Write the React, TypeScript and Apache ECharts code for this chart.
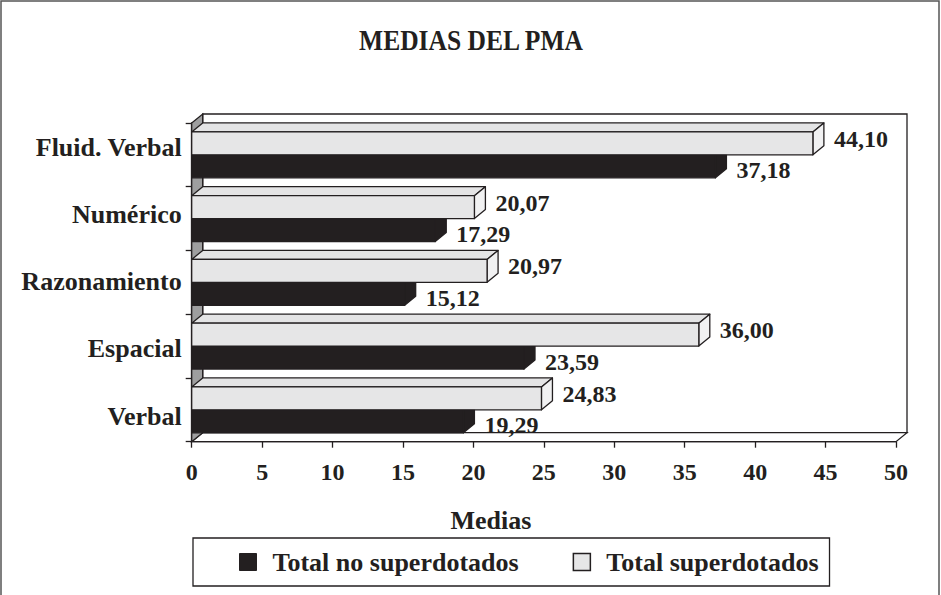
import React, { useEffect, useRef } from "react";
import * as echarts from "echarts";

const categories = ["Verbal", "Espacial", "Razonamiento", "Numérico", "Fluid. Verbal"];
const noSuperdotados = [19.29, 23.59, 15.12, 17.29, 37.18];
const superdotados = [24.83, 36.0, 20.97, 20.07, 44.1];
const seriesNames = ["Total no superdotados", "Total superdotados"];
const xTicks = { min: 0, max: 50, interval: 5 };

const INK = "#231f20";
const FONT = '"Liberation Serif", "Times New Roman", serif';
const DX = 11;
const DY = 9;

const fmt = (v: number) => v.toFixed(2).replace(".", ",");

function barRenderer(kind: "no" | "sup") {
  return (params: any, api: any) => {
    const v = api.value(0);
    const c = api.value(1);
    const p = api.coord([v, c]);
    const p0 = api.coord([0, c]);
    const band = api.size([0, 1])[1];
    const h = band * 0.36;
    const x0 = p0[0];
    const xe = p[0];
    const y1 = kind === "no" ? p[1] : p[1] - h;
    const y2 = kind === "no" ? p[1] + h : p[1];
    const front = kind === "no" ? INK : "#e6e6e7";
    const top = kind === "no" ? INK : "#e4e4e5";
    const side = kind === "no" ? INK : "#f1f1f2";
    const stroke = { stroke: INK, lineWidth: 1.3, lineJoin: "round" };
    return {
      type: "group",
      children: [
        {
          type: "polygon",
          shape: { points: [[x0, y1], [x0 + DX, y1 - DY], [xe + DX, y1 - DY], [xe, y1]] },
          style: { fill: top, ...stroke },
        },
        {
          type: "polygon",
          shape: { points: [[xe, y1], [xe + DX, y1 - DY], [xe + DX, y2 - DY], [xe, y2]] },
          style: { fill: side, ...stroke },
        },
        {
          type: "rect",
          shape: { x: x0, y: y1, width: xe - x0, height: y2 - y1 },
          style: { fill: front, ...stroke },
        },
        {
          type: "text",
          x: xe + DX + 10,
          y: (y1 + y2) / 2 + (kind === "no" ? 4 : -4.5),
          style: {
            text: fmt(v),
            font: `bold 24px ${FONT}`,
            fill: INK,
            textAlign: "left",
            textVerticalAlign: "middle",
          },
        },
      ],
    };
  };
}

function wallRenderer(params: any, api: any) {
  const p0 = api.coord([xTicks.min, 0]);
  const p1 = api.coord([xTicks.max, categories.length - 1]);
  const band = api.size([0, 1])[1];
  const xL = p0[0];
  const xR = p1[0];
  const yB = p0[1] + band / 2;
  const yT = p1[1] - band / 2;
  const stroke = { stroke: INK, lineWidth: 1.3 };
  return {
    type: "group",
    children: [
      {
        type: "polygon",
        shape: { points: [[xL + DX, yT - DY], [xR + DX, yT - DY], [xR + DX, yB - DY], [xL + DX, yB - DY]] },
        style: { fill: "#ffffff", ...stroke },
      },
      {
        type: "polygon",
        shape: { points: [[xL, yB], [xL + DX, yB - DY], [xR + DX, yB - DY], [xR, yB]] },
        style: { fill: "#ffffff", ...stroke },
      },
      {
        type: "polygon",
        shape: { points: [[xL, yT], [xL + DX, yT - DY], [xL + DX, yB - DY], [xL, yB]] },
        style: { fill: "#9e9e9f", ...stroke },
      },
    ],
  };
}

export default function App() {
  const ref = useRef<HTMLDivElement>(null);
  useEffect(() => {
    document.body.style.margin = "0";
    const chart = echarts.init(ref.current!, null, { renderer: "svg" });
    const labelStyle = { fontFamily: FONT, fontWeight: "bold" as const, color: INK };
    chart.setOption({
      animation: false,
      backgroundColor: "#ffffff",
      graphic: [
        {
          type: "rect",
          shape: { x: 1, y: 1, width: 938, height: 620 },
          style: { fill: "none", stroke: "#555555", lineWidth: 1.5 },
          z: 0,
        },
        {
          type: "text",
          x: 471,
          y: 40,
          scaleX: 0.88,
          style: {
            text: "MEDIAS DEL PMA",
            font: `bold 29px ${FONT}`,
            fill: INK,
            textAlign: "center",
            textVerticalAlign: "middle",
          },
        },
      ],
      legend: {
        data: [
          { name: seriesNames[0], icon: "rect", itemStyle: { color: INK, borderColor: INK, borderWidth: 1 } },
          { name: seriesNames[1], icon: "rect", itemStyle: { color: "#e6e6e7", borderColor: INK, borderWidth: 1.5 } },
        ],
        left: 193,
        top: 538,
        orient: "horizontal",
        padding: [11, 11, 11, 46],
        itemWidth: 17,
        itemHeight: 17,
        itemGap: 54,
        borderColor: INK,
        borderWidth: 1.3,
        textStyle: { ...labelStyle, fontSize: 26, padding: [0, 0, 0, 11] },
      },
      grid: [
        { left: 191.7, right: 45, top: 123, bottom: 153.3 },
        { left: 191.7, right: 45, top: 113.4, bottom: 145.2 },
      ],
      xAxis: [
        {
          type: "value",
          gridIndex: 0,
          min: xTicks.min,
          max: xTicks.max,
          interval: xTicks.interval,
          axisLine: { show: true, lineStyle: { color: INK, width: 1.3 } },
          axisTick: { show: true, length: 6, lineStyle: { color: INK, width: 1.3 } },
          axisLabel: { ...labelStyle, fontSize: 24, margin: 18 },
          splitLine: { show: false },
          name: "Medias",
          nameLocation: "middle",
          nameGap: 66,
          nameTextStyle: { ...labelStyle, fontSize: 26, padding: [0, 106, 0, 0] },
        },
        {
          type: "value",
          gridIndex: 1,
          min: xTicks.min,
          max: xTicks.max,
          show: false,
        },
      ],
      yAxis: [
        {
          type: "category",
          gridIndex: 0,
          data: categories,
          axisLine: { show: true, lineStyle: { color: INK, width: 1.3 } },
          axisTick: { show: true, length: 6, lineStyle: { color: INK, width: 1.3 } },
          axisLabel: { show: false },
          splitLine: { show: false },
        },
        {
          type: "category",
          gridIndex: 1,
          data: categories,
          axisLine: { show: false },
          axisTick: { show: false },
          axisLabel: { ...labelStyle, fontSize: 26, margin: 10 },
          splitLine: { show: false },
        },
      ],
      series: [
        {
          type: "custom",
          name: "walls",
          xAxisIndex: 0,
          yAxisIndex: 0,
          clip: false,
          z: 1,
          silent: true,
          data: [[0, 0]],
          renderItem: wallRenderer,
        },
        {
          type: "custom",
          name: seriesNames[0],
          xAxisIndex: 0,
          yAxisIndex: 0,
          clip: false,
          z: 2,
          itemStyle: { color: INK },
          encode: { x: 0, y: 1 },
          data: noSuperdotados.map((v, i) => [v, i]),
          renderItem: barRenderer("no"),
        },
        {
          type: "custom",
          name: seriesNames[1],
          xAxisIndex: 0,
          yAxisIndex: 0,
          clip: false,
          z: 3,
          itemStyle: { color: "#e6e6e7" },
          encode: { x: 0, y: 1 },
          data: superdotados.map((v, i) => [v, i]),
          renderItem: barRenderer("sup"),
        },
      ],
    });
    return () => chart.dispose();
  }, []);
  return <div ref={ref} style={{ width: 941, height: 595 }} />;
}
